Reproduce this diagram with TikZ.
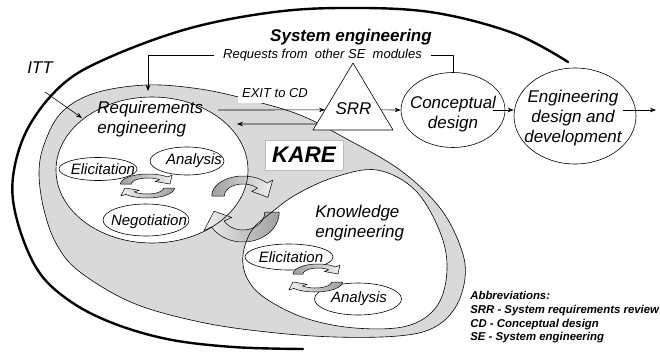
\documentclass[tikz,border=0pt]{standalone}
\usepackage{fontspec}
\setmainfont{Liberation Sans}
\usetikzlibrary{arrows.meta,shapes.geometric,calc}

\definecolor{bandgray}{HTML}{D9D9D9}
\definecolor{boxedge}{HTML}{BBBBBB}

\tikzset{
  lbl/.style={font=\itshape\fontsize{17}{20}\selectfont, inner sep=0pt},
  tag/.style={font=\itshape\fontsize{15}{18}\selectfont, inner sep=0pt},
  note/.style={font=\itshape\fontsize{13}{16}\selectfont, inner sep=0pt},
  oval/.style={draw, ellipse, fill=white, inner sep=0pt},
  flow/.style={draw, -{Stealth[length=6pt,width=4.5pt]}},
  link/.style={draw},
  swirlstyle/.style={draw, line width=0.5pt},
  tailleft/.style={left color=black!38, right color=black!6},
  tailright/.style={right color=black!38, left color=black!6},
}

% curved block arrow on an elliptic track
% #1,#2 centre  #3,#4 radii  #5 tail angle  #6 head base angle
% #7 tip angle  #8 relative half width  #9 fill style
\newcommand{\swirl}[9]{%
  \path[swirlstyle,#9]
    plot[domain=#5:#6,samples=24,variable=\ang]
      ({#1+#3*(1+#8)*cos(\ang)},{#2+#4*(1+#8)*sin(\ang)})
    -- ({#1+#3*(1+2.2*#8)*cos(#6)},{#2+#4*(1+2.2*#8)*sin(#6)})
    -- ({#1+#3*cos(#7)},{#2+#4*sin(#7)})
    -- ({#1+#3*(1-2.2*#8)*cos(#6)},{#2+#4*(1-2.2*#8)*sin(#6)})
    -- plot[domain=#6:#5,samples=24,variable=\ang]
      ({#1+#3*(1-#8)*cos(\ang)},{#2+#4*(1-#8)*sin(\ang)})
    -- cycle;}

\begin{document}
\begin{tikzpicture}[x=1pt,y=-1pt,line width=0.6pt,line join=round]
\useasboundingbox (0,0) rectangle (660,351);

% system engineering boundary
\draw[line width=2.4pt,line cap=round] plot[smooth,tension=0.6] coordinates
  {(303,349) (233,347) (167,339) (110,322) (67,299) (37,269) (17,220)
   (13,177) (28,128) (63,84) (110,57) (187,29) (267,13) (340,8)
   (430,12) (513,33) (568,62)};
\node[font=\bfseries\itshape\fontsize{17}{20}\selectfont,inner sep=0pt,anchor=base]
  (se) at (351,41) {System engineering};

% KARE band
\draw[fill=bandgray] plot[smooth cycle,tension=0.6] coordinates
  {(39,172) (44,210) (57,245) (80,272) (133,303) (200,322) (267,332)
   (335,337) (398,336) (433,328) (455,308) (465,278) (461,248)
   (440,208) (400,170) (345,138) (300,115) (250,100) (200,89)
   (147,85) (95,93) (62,112) (45,142)};

% requirements and knowledge engineering areas
\fill[white] (152,170) ellipse [x radius=96, y radius=73];
\fill[white] plot[smooth cycle,tension=0.6] coordinates
  {(243,255) (252,230) (272,212) (297,194) (335,177) (377,170)
   (415,190) (440,232) (447,270) (437,306) (407,326) (355,328)
   (305,318) (265,298) (247,278)};

% exchange between the two engineering activities
\swirl{243}{196}{25}{16}{180}{320}{365}{0.25}{tailleft}
\swirl{243}{212}{29}{24}{0}{150}{182}{0.25}{tailright}

\draw (152,170) ellipse [x radius=96, y radius=73];
\draw plot[smooth cycle,tension=0.6] coordinates
  {(243,255) (252,230) (272,212) (297,194) (335,177) (377,170)
   (415,190) (440,232) (447,270) (437,306) (407,326) (355,328)
   (305,318) (265,298) (247,278)};

\node[lbl,align=left,anchor=west] (reTxt) at (97,119.5) {Requirements\\engineering};
\node[lbl,align=left,anchor=west] (keTxt) at (315,223.5) {Knowledge\\engineering};

% activities inside requirements engineering
\node[oval,minimum width=78pt,minimum height=23pt] (reElic) at (98,169) {};
\node[tag] at (103,169) {Elicitation};
\node[oval,minimum width=74pt,minimum height=28pt] (reAna) at (187,161) {};
\node[tag] at (194,161) {Analysis};
\node[oval,minimum width=86pt,minimum height=32pt] (reNeg) at (146,220) {};
\node[tag] at (149,221.5) {Negotiation};
\swirl{148}{184}{22}{8}{180}{315}{360}{0.25}{tailleft}
\swirl{147}{188}{22}{8}{0}{140}{180}{0.25}{tailright}

% activities inside knowledge engineering
\node[oval,minimum width=88pt,minimum height=26pt] (keElic) at (289,257) {};
\node[tag] at (291,257) {Elicitation};
\node[oval,minimum width=87pt,minimum height=32pt] (keAna) at (358,299) {};
\node[tag] at (359,299) {Analysis};
\swirl{318}{274}{20}{8}{180}{315}{360}{0.25}{tailleft}
\swirl{315}{282}{22}{8}{0}{140}{180}{0.25}{tailright}

% KARE label
\node[draw=boxedge,fill=white,minimum width=78pt,minimum height=30pt,inner sep=0pt,
      font=\bfseries\itshape\fontsize{22.5}{26}\selectfont] (kare) at (304,155) {KARE};

% system requirements review and later phases
\coordinate (srrTop) at (353,63);
\coordinate (srrL) at (313,130);
\coordinate (srrR) at (393,130);
\draw[fill=white] (srrTop) -- (srrL) -- (srrR) -- cycle;
\node[lbl] (srr) at (353.5,108.5) {SRR};

\node[oval,minimum width=104pt,minimum height=75pt] (cd) at (453,110) {};
\node[lbl,align=center] (cdTxt) at (453,114.6) {Conceptual\\design};
\node[oval,minimum width=122pt,minimum height=96pt] (edd) at (575,116) {};
\node[lbl,align=center] (eddTxt) at (573,118.6) {Engineering\\design and\\development};

\draw[flow] ($(srrTop)!0.7!(srrR)$) -- (cd.west);
\coordinate (cdOut) at ($(cd.east)+(-12,0)$);
\draw[flow] (cdOut) -- (cd.east -| edd.west);
\coordinate (eddOut) at ($(edd.east |- cd.east)+(-13,0)$);
\coordinate (next) at (656,110);
\draw[flow] (eddOut) -- (next);

% exit to conceptual design and the way back
\node[note,fill=white,inner xsep=4.5pt,minimum height=20pt] (exit) at (275,93) {EXIT to CD};
\coordinate (exitS) at (218,110);
\draw[flow] (exitS) -- ($(srrTop)!0.7!(srrL)$);
\coordinate (backE) at (237,124);
\draw[flow] ($(srrTop)!0.91!(srrL)$) -- (backE);

% requests from other modules
\node[note,inner xsep=9pt] (req) at (322.5,55.5) {Requests from~~other SE~~modules};
\draw[link] (cd.north) |- (req.east);
\coordinate (reqE) at (148,91);
\draw[flow] (req.west) -| (reqE);

% invitation to tender
\node[lbl] (itt) at (40,68) {ITT};
\coordinate (ittS) at (45,92);
\coordinate (ittE) at (82,118);
\draw[flow] (ittS) -- (ittE);

% abbreviations
\node[font=\bfseries\itshape\fontsize{11.4}{13.6}\selectfont,align=left,anchor=west,inner sep=0pt]
  (abbr) at (470,317.3)
  {Abbreviations:\\SRR - System requirements review\\CD - Conceptual design\\SE - System engineering};
\end{tikzpicture}
\end{document}
